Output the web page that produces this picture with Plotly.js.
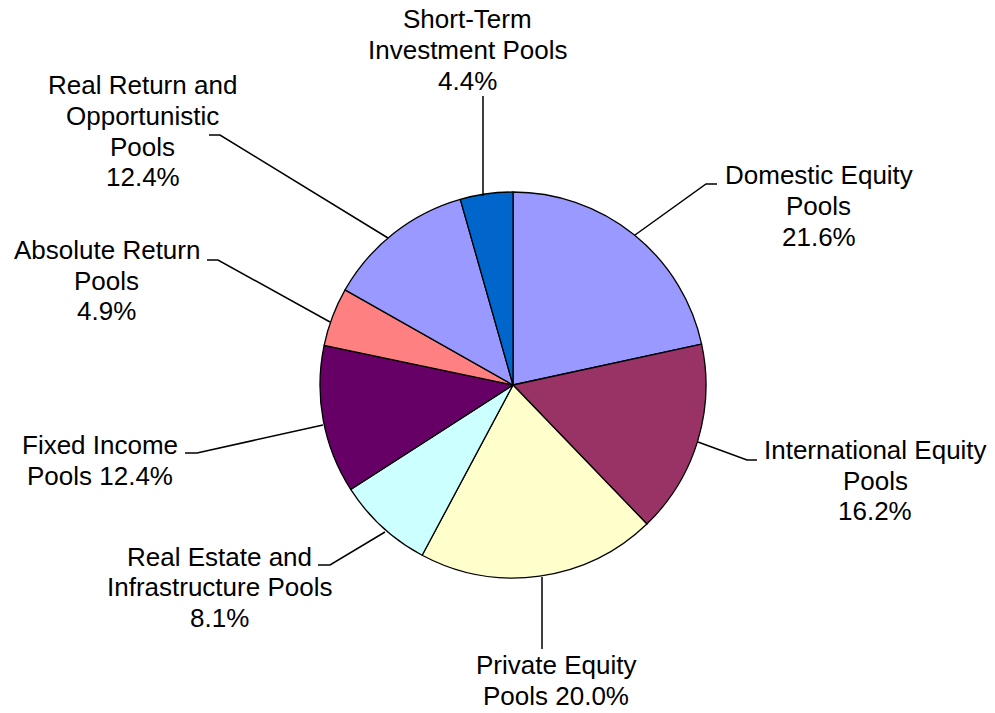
<!DOCTYPE html>
<html>
<head>
<meta charset="utf-8">
<script src="https://cdn.plot.ly/plotly-3.0.1.min.js"></script>
<style>html,body{margin:0;padding:0;background:#fff;}#chart{width:995px;height:713px;}</style>
</head>
<body>
<div id="chart"></div>
<script>
// ---- data ----
const categories = [
  "Domestic Equity Pools",
  "International Equity Pools",
  "Private Equity Pools",
  "Real Estate and Infrastructure Pools",
  "Fixed Income Pools",
  "Absolute Return Pools",
  "Real Return and Opportunistic Pools",
  "Short-Term Investment Pools"
];
const values = [21.6, 16.2, 20.0, 8.1, 12.4, 4.9, 12.4, 4.4];
const colors = ["#9999FF", "#993366", "#FFFFCC", "#CCFFFF", "#660066", "#FF8080", "#9999FF", "#0066CC"];
// label text lines (the last percentage is appended from values)
const labelLines = [
  ["Domestic Equity", "Pools", "{p}"],
  ["International Equity", "Pools", "{p}"],
  ["Private Equity", "Pools {p}"],
  ["Real Estate and", "Infrastructure Pools", "{p}"],
  ["Fixed Income", "Pools {p}"],
  ["Absolute Return", "Pools", "{p}"],
  ["Real Return and", "Opportunistic", "Pools", "{p}"],
  ["Short-Term", "Investment Pools", "{p}"]
];

// ---- layout helpers (pixel -> paper) ----
const W = 995, H = 713;
const px = x => x / W;
const py = y => 1 - y / H;

// label placement: [center x, first baseline y]
const labelPos = [
  [818.5, 184.3], [875, 459], [556, 674], [219, 565.7],
  [100, 454], [106.7, 259], [142.5, 94.3], [467, 28.3]
];
// leader line paths in pixels
const leaders = [
  [[635,235],[706,184],[717,184]],
  [[698,442],[747,460],[757,460]],
  [[542,577],[542,649]],
  [[385,532],[330,565],[318,565]],
  [[323,425],[197,453],[185,453]],
  [[330,322],[218,260],[207,260]],
  [[388,238],[220,135],[209,135]],
  [[483,196],[483,96]]
];

const FS = 26, PITCH = 30.7, FONT = "Liberation Sans, Arial, sans-serif";
const annotations = [];
labelLines.forEach((lines, i) => {
  const pct = values[i].toFixed(1) + "%";
  lines.forEach((ln, k) => {
    const base = labelPos[i][1] + k * PITCH;
    annotations.push({
      xref: "paper", yref: "paper",
      x: px(labelPos[i][0]), y: py(base - FS * 0.3465),
      xanchor: "center", yanchor: "middle",
      text: ln.replace("{p}", pct), showarrow: false,
      font: {family: FONT, size: FS, color: "#000"}
    });
  });
});
const shapes = leaders.map(pts => ({
  type: "path", xref: "paper", yref: "paper",
  path: pts.map((p, j) => (j ? "L" : "M") + px(p[0]) + "," + py(p[1])).join(" "),
  line: {color: "#000", width: 1.5}
}));

const trace = {
  type: "pie",
  labels: categories,
  values: values,
  sort: false,
  direction: "clockwise",
  rotation: 0,
  textinfo: "none",
  hoverinfo: "label+percent",
  marker: {colors: colors, line: {color: "#000", width: 1.3}},
  domain: {x: [320 / W, 706 / W], y: [1 - 578 / H, 1 - 192 / H]},
  showlegend: false
};

Plotly.newPlot("chart", [trace], {
  width: W, height: H,
  margin: {l: 0, r: 0, t: 0, b: 0},
  paper_bgcolor: "#fff",
  plot_bgcolor: "#fff",
  showlegend: false,
  annotations: annotations,
  shapes: shapes
}, {displayModeBar: false, staticPlot: true});
</script>
</body>
</html>
